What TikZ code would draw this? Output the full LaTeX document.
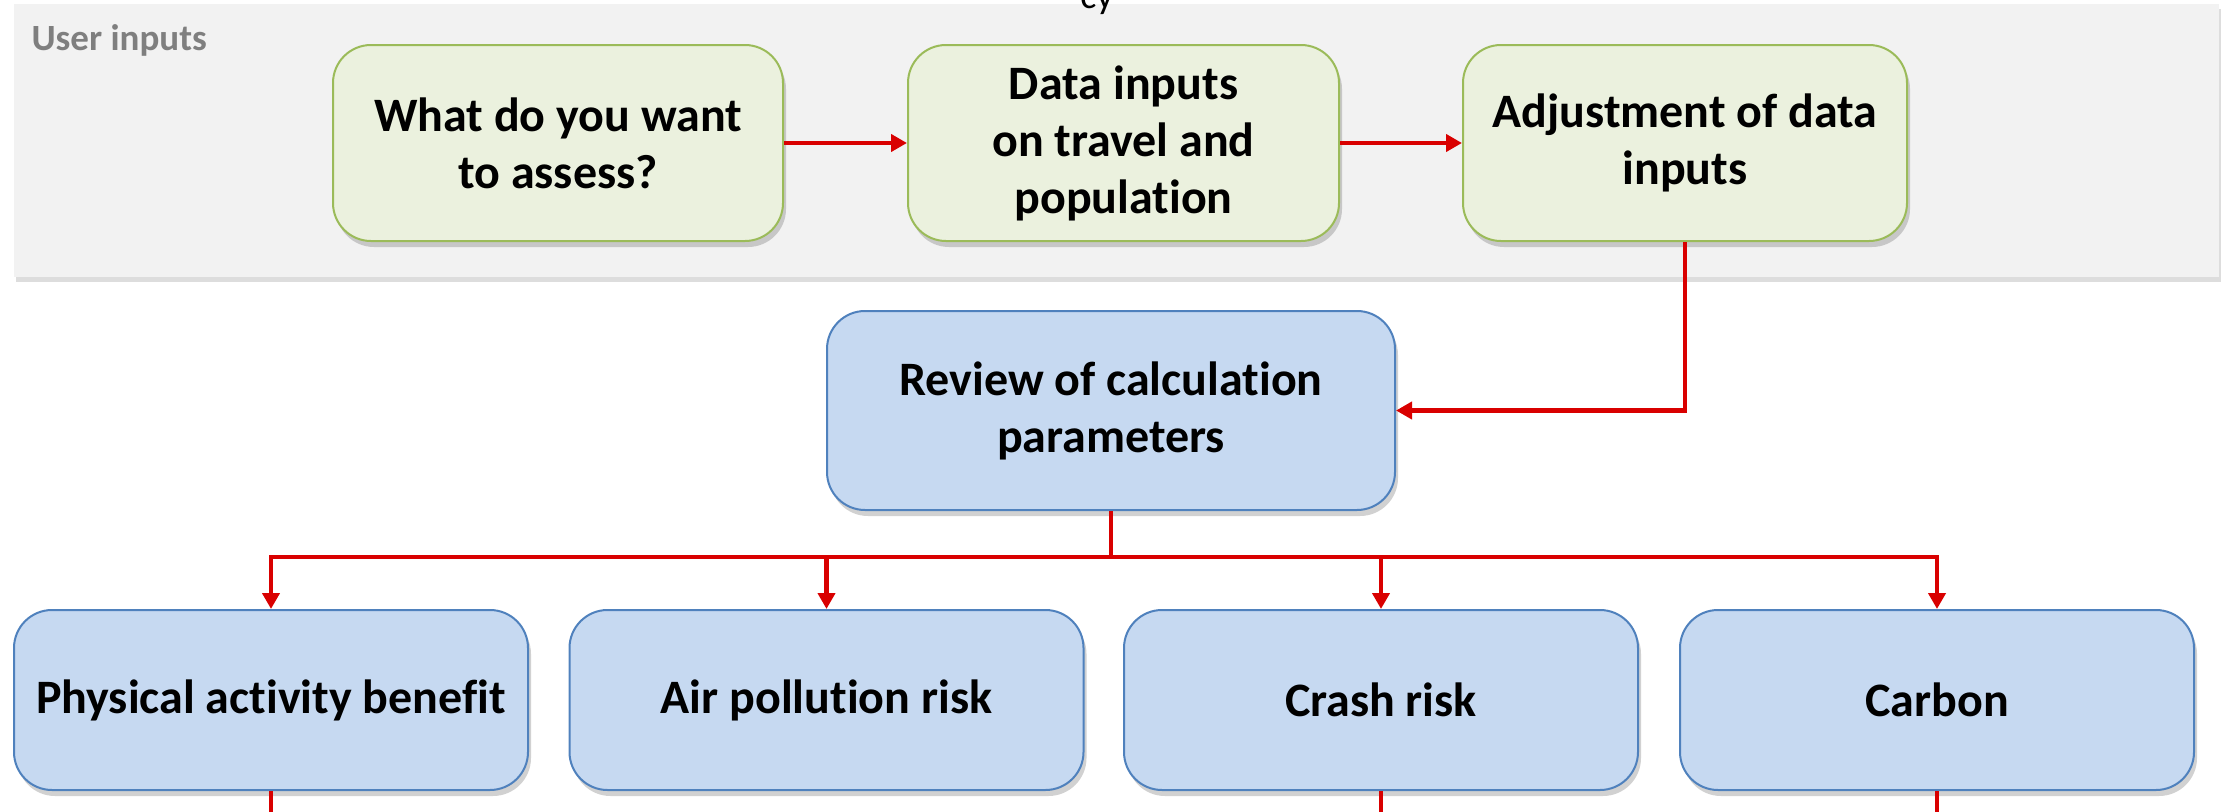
\documentclass[tikz,border=0pt]{standalone}
\usepackage{fontspec}
\setmainfont[Ligatures=NoCommon]{Carlito}
\usetikzlibrary{arrows.meta,shadows}
\definecolor{panel}{HTML}{F2F2F2}
\definecolor{gfill}{HTML}{EBF1DE}
\definecolor{gdraw}{HTML}{9BBB59}
\definecolor{bfill}{HTML}{C6D9F1}
\definecolor{bdraw}{HTML}{4F81BD}
\definecolor{conn}{HTML}{D90000}
\definecolor{labelgray}{HTML}{7F7F7F}
\begin{document}
\begin{tikzpicture}[x=1pt,y=-1pt,
  boxbase/.style={rounded corners=38pt, line width=2pt, align=center, inner sep=0pt,
    font=\fontsize{48}{57}\selectfont\bfseries,
    drop shadow={shadow xshift=3pt,shadow yshift=-6pt,opacity=0.3,fill=black!60}},
  gbox/.style={boxbase, fill=gfill, draw=gdraw, minimum height=196pt},
  bbox/.style={boxbase, fill=bfill, draw=bdraw},
  conn/.style={draw=conn, line width=4.5pt},
  arr/.style={conn, -{Triangle[length=16pt,width=17pt]}}]
\useasboundingbox (0,0) rectangle (2224,811);
% panel
\node[fill=panel, minimum width=2205pt, minimum height=273pt, inner sep=0pt,
  drop shadow={shadow xshift=2pt,shadow yshift=-5pt,opacity=0.22,fill=black!60}] (panel) at (1116.5,140.5) {};
\node[anchor=west, text=labelgray, font=\fontsize{37}{44}\selectfont\bfseries] (ulabel) at (28,40) {User inputs};
\node[anchor=base, inner sep=0pt, font=\fontsize{38}{44}\selectfont] (cut) at (1097,9) {cy};
% top boxes
\node[gbox, minimum width=450pt] (q) at (558,143) {What do you want\\to assess?};
\node[gbox, minimum width=431pt] (d) at (1123.5,143) {Data inputs\\on travel and\\population};
\node[gbox, minimum width=444pt] (a) at (1685,143) {Adjustment of data\\inputs};
% review
\node[bbox, minimum width=568pt, minimum height=199pt] (r) at (1111,410.5) {Review of calculation\\parameters};
% bottom boxes
\node[bbox, minimum width=514pt, minimum height=180pt] (p) at (271,700) {Physical activity benefit};
\node[bbox, minimum width=514pt, minimum height=180pt] (ap) at (826.5,700) {Air pollution risk};
\node[bbox, minimum width=514pt, minimum height=180pt] (c) at (1381,700) {Crash risk};
\node[bbox, minimum width=514pt, minimum height=180pt] (cb) at (1937,700) {Carbon};
% connectors
\draw[arr] (q.east) -- (d.west);
\draw[arr] (d.east) -- (a.west);
\draw[arr] (a.south) |- (r.east);
\coordinate (bus) at (1111,557);
\draw[conn] (r.south) -- (bus);
\draw[arr] (bus) -| (p.north);
\draw[arr] (bus) -| (ap.north);
\draw[arr] (bus) -| (c.north);
\draw[arr] (bus) -| (cb.north);
\coordinate (po) at (271,816);
\coordinate (co) at (1381,816);
\coordinate (cbo) at (1937,816);
\draw[conn] (p.south) -- (po);
\draw[conn] (c.south) -- (co);
\draw[conn] (cb.south) -- (cbo);
\end{tikzpicture}
\end{document}
